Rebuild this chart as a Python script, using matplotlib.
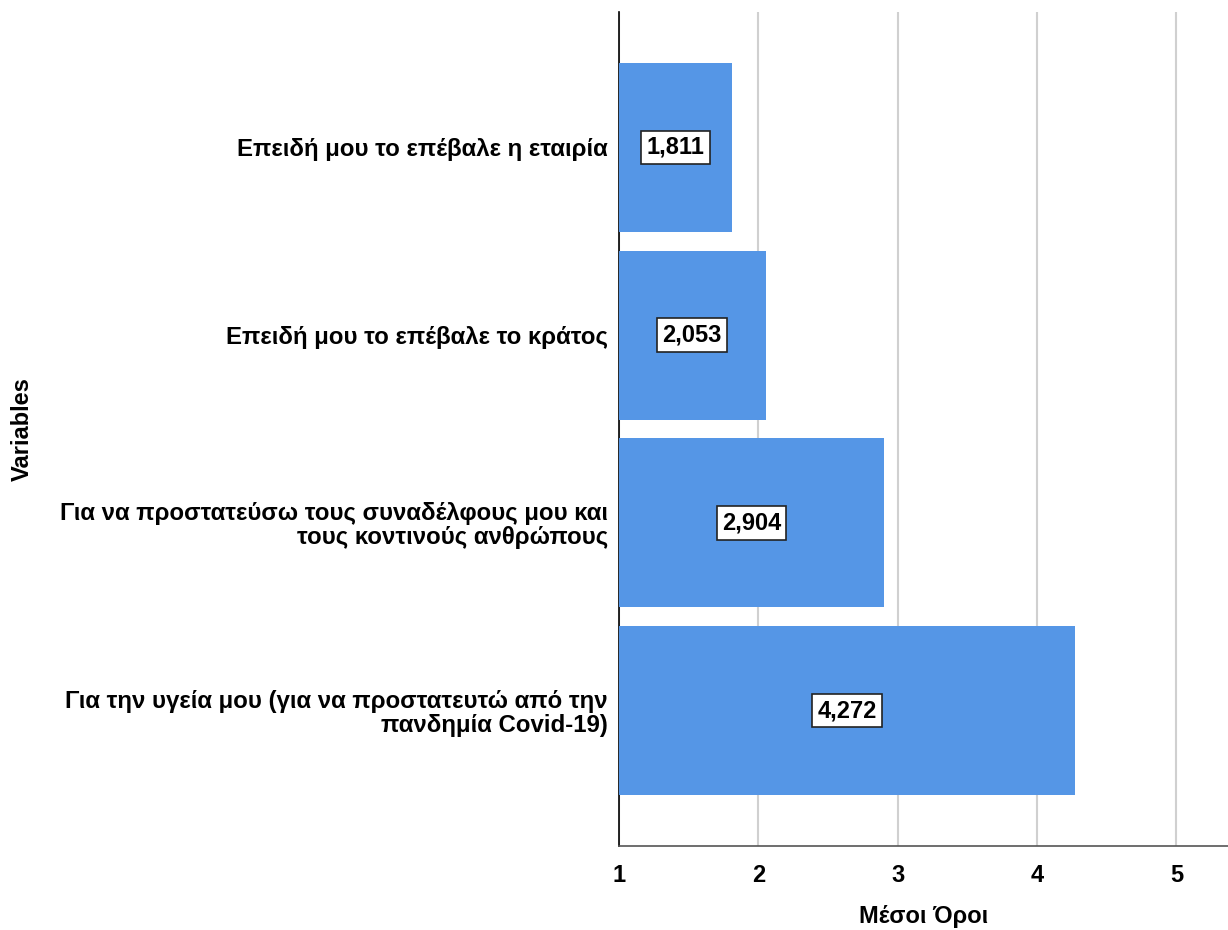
import matplotlib
matplotlib.use("Agg")
import matplotlib.pyplot as plt

plt.rcParams['font.family'] = ['Liberation Sans', 'DejaVu Sans']
plt.rcParams['font.weight'] = 'bold'

categories = [
    "Επειδή μου το επέβαλε η εταιρία",
    "Επειδή μου το επέβαλε το κράτος",
    "Για να προστατεύσω τους συναδέλφους μου και\nτους κοντινούς ανθρώπους",
    "Για την υγεία μου (για να προστατευτώ από την\nπανδημία Covid-19)",
]
means = [1.811, 2.053, 2.904, 4.272]
value_labels = ["1,811", "2,053", "2,904", "4,272"]
xticks = [1, 2, 3, 4, 5]

fig = plt.figure(figsize=(12.28, 9.3), dpi=100)
ax = fig.add_axes([0.504, 0.0903, 0.496, 0.8967])

pos = list(range(len(categories)))
ax.barh(pos, [m - 1 for m in means], left=1, height=0.9, color='#5596E6', zorder=3)
for p, m, t in zip(pos, means, value_labels):
    ax.text((1 + m) / 2, p, t, ha='center', va='center', fontsize=17, zorder=4,
            bbox=dict(boxstyle='square,pad=0.22', fc='white', ec='#222222', lw=1.2))

ax.set_ylim(3.72, -0.72)
ax.set_xlim(1, 5.37)
ax.set_yticks(pos)
ax.set_yticklabels(categories, fontsize=17.3, ha='right', linespacing=1.02)
ax.set_xticks(xticks)
ax.set_xticklabels([str(x) for x in xticks], fontsize=17)
ax.tick_params(axis='y', length=0, pad=8)
ax.tick_params(axis='x', length=0, pad=13)
ax.xaxis.grid(True, color='#d0d0d0', lw=1.5, zorder=0)
for s in ['top', 'right']:
    ax.spines[s].set_visible(False)
ax.spines['left'].set_linewidth(1.2)
ax.spines['bottom'].set_linewidth(1.2)
ax.spines['bottom'].set_color('#555555')

fig.text(0.752, 0.014, "Μέσοι Όροι", ha='center', va='center', fontsize=17, fontweight='bold')
fig.text(0.018, 0.539, "Variables", rotation=90, ha='center', va='center', fontsize=17,
         fontweight='bold')

fig.savefig("out.png", dpi=100)
